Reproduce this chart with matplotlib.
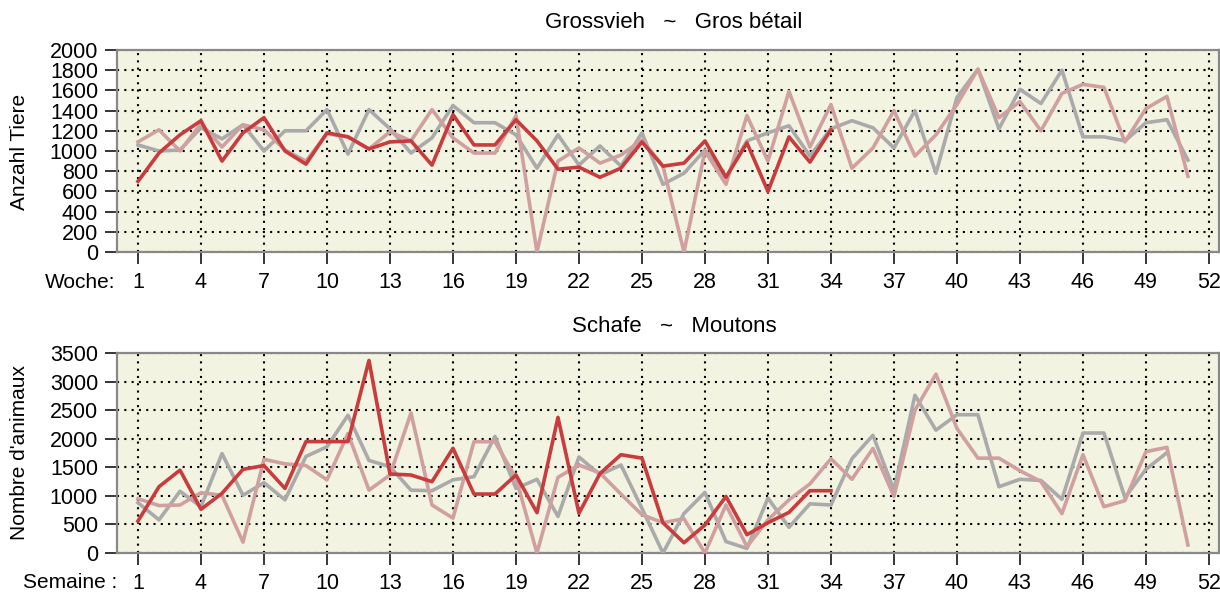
import numpy as np
import matplotlib.pyplot as plt

plt.rcParams['font.family'] = ['Liberation Sans', 'DejaVu Sans']

# Grossvieh (Anzahl Tiere), Wochen 1..51
gross_grau = [1060, 1000, 1010, 1230, 1120, 1260, 1000, 1200, 1200, 1410,
              970, 1410, 1220, 980, 1130, 1450, 1280, 1280, 1160, 830,
              1160, 860, 1050, 850, 1180, 670, 780, 1010, 740, 1100,
              1180, 1250, 950, 1220, 1300, 1230, 1030, 1400, 780, 1530,
              1810, 1220, 1610, 1470, 1800, 1140, 1140, 1100, 1280, 1310, 910]
gross_rosa = [1090, 1210, 1000, 1270, 1040, 1260, 1210, 1010, 900, 1170,
              1140, 1020, 1190, 1100, 1410, 1130, 980, 980, 1350, 0,
              900, 1030, 880, 960, 1110, 850, 0, 1000, 670, 1350,
              900, 1590, 1040, 1460, 830, 1030, 1400, 950, 1160, 1460,
              1810, 1330, 1490, 1200, 1570, 1660, 1630, 1090, 1420, 1540, 750]
gross_rot = [700, 980, 1160, 1300, 900, 1180, 1330, 1000, 870, 1180,
             1140, 1020, 1090, 1100, 860, 1360, 1060, 1060, 1310, 1100,
             820, 840, 740, 830, 1090, 850, 880, 1100, 740, 1080,
             600, 1140, 890, 1210]

# Schafe (Nombre d'animaux)
schafe_grau = [880, 580, 1080, 810, 1740, 1010, 1230, 930, 1690, 1860,
               2410, 1620, 1510, 1100, 1090, 1280, 1335, 2040, 1130, 1290,
               640, 1680, 1370, 1540, 780, 0, 690, 1060, 200, 80,
               960, 450, 860, 840, 1650, 2060, 1100, 2760, 2150, 2420,
               2420, 1160, 1290, 1270, 940, 2100, 2100, 970, 1465, 1756]
schafe_rosa = [950, 830, 840, 1056, 1010, 190, 1640, 1560, 1530, 1280,
               2090, 1100, 1365, 2450, 840, 610, 1948, 1948, 1310, 0,
               1324, 1540, 1400, 1030, 670, 530, 600, 0, 840, 110,
               580, 930, 1210, 1650, 1290, 1830, 990, 2500, 3130, 2180,
               1660, 1660, 1440, 1250, 690, 1720, 810, 916, 1773, 1849, 140]
schafe_rot = [560, 1160, 1450, 765, 1044, 1464, 1530, 1130, 1950, 1950,
              1950, 3370, 1382, 1365, 1248, 1832, 1032, 1032, 1365, 706,
              2374, 694, 1390, 1720, 1660, 530, 180, 490, 990, 320,
              530, 710, 1090, 1090]

wochen_ticks = list(range(1, 53, 3))

bg = '#f3f3e2'
c_grau = '#aaaaaa'
c_rosa = '#d0a0a0'
c_rot = '#c83c3e'
W, H = 1220, 594


def panel(ax, grau, rosa, rot, ymax, ystep):
    ax.set_facecolor(bg)
    ax.plot(np.arange(1, len(grau) + 1), grau, color=c_grau, lw=2.6, zorder=3)
    ax.plot(np.arange(1, len(rosa) + 1), rosa, color=c_rosa, lw=2.6, zorder=4)
    ax.plot(np.arange(1, len(rot) + 1), rot, color=c_rot, lw=2.6, zorder=5)
    ax.set_xlim(0, 52.48)
    ax.set_ylim(0, ymax)
    ax.set_xticks(wochen_ticks)
    ax.set_yticks(np.arange(0, ymax + 1, ystep))
    ax.grid(True, color='black', lw=1.5, linestyle=(0, (1, 2.5)), zorder=1)
    ax.set_axisbelow(True)
    for s in ax.spines.values():
        s.set_color('#888888')
        s.set_linewidth(1.6)
    ax.tick_params(axis='y', length=8.6, width=1.1, pad=5, labelsize=15.5)
    ax.tick_params(axis='x', length=8.6, width=1.1, pad=6, labelsize=15.5)


fig = plt.figure(figsize=(12.2, 5.94), dpi=100)
ax1 = fig.add_axes([117 / W, 1 - 252 / H, 1102 / W, 202 / H])
ax2 = fig.add_axes([117 / W, 1 - 553 / H, 1102 / W, 200 / H])

panel(ax1, gross_grau, gross_rosa, gross_rot, 2000, 200)
panel(ax2, schafe_grau, schafe_rosa, schafe_rot, 3500, 500)

fig.text(674 / W, 1 - 23 / H, 'Grossvieh   ~   Gros bétail', ha='center', va='center', fontsize=16)
fig.text(674 / W, 1 - 327 / H, 'Schafe   ~   Moutons', ha='center', va='center', fontsize=16)
fig.text(20 / W, 1 - 152 / H, 'Anzahl Tiere', rotation=90, ha='center', va='center', fontsize=15)
fig.text(20 / W, 1 - 452 / H, "Nombre d'animaux", rotation=90, ha='center', va='center', fontsize=15)
fig.text(115 / W, 1 - 283 / H, 'Woche:', ha='right', va='center', fontsize=15)
fig.text(117 / W, 1 - 582 / H, 'Semaine :', ha='right', va='center', fontsize=15)

fig.savefig('out.png', dpi=100)
